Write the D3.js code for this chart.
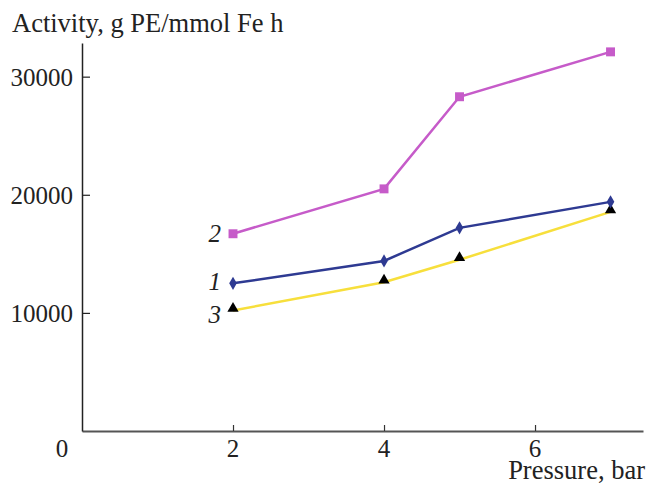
<!DOCTYPE html>
<html>
<head>
<meta charset="utf-8">
<script src="https://cdn.jsdelivr.net/npm/d3@7"></script>
<style>
    body { margin: 0; background: #fff; }
    svg text { font-family: "Liberation Serif", "DejaVu Serif", serif; fill: #222; }
</style>
</head>
<body>
<div id="chart"></div>
<script>

// pressure, bar
var pressure = [2, 4, 5, 7];

// activity, g PE/mmol Fe h
var series1 = [12500, 14400, 17200, 19400];
var series2 = [16700, 20500, 28300, 32100];
var series3 = [10200, 12600, 14500, 18550];

var seriesNames = ['1', '2', '3'];
var xTicks = [0, 2, 4, 6];
var yTicks = [10000, 20000, 30000];


var width = 648;
var height = 485;

var margin = {
    left: 82,
    top: 43,
    right: 5,
    bottom: 54
};

var innerWidth = width - margin.left - margin.right;
var innerHeight = height - margin.top - margin.bottom;

var xScale = d3.scaleLinear()
    .domain([0, 7.43])
    .range([0, innerWidth]);

var yScale = d3.scaleLinear()
    .domain([0, 32850])
    .range([innerHeight, 0]);

var svg = d3.select('#chart')
    .append('svg')
    .attr('width', width)
    .attr('height', height);

var canvas = svg.append('g')
    .attr('transform', 'translate(' + [margin.left, margin.top] + ')');

// axes
var xAxis = canvas.append('g')
    .attr('transform', 'translate(0,' + innerHeight + ')')
    .call(d3.axisBottom(xScale)
        .tickValues(xTicks.filter(d => d > 0))
        .tickSize(-6)
        .tickSizeOuter(0));

xAxis.selectAll('.tick text').remove();

xAxis.select('.domain')
    .attr('stroke', '#555')
    .attr('stroke-width', 2);

xAxis.selectAll('.tick line')
    .attr('stroke', '#333')
    .attr('stroke-width', 1.2);

var yAxis = canvas.append('g')
    .call(d3.axisLeft(yScale)
        .tickValues(yTicks)
        .tickSize(-8)
        .tickSizeOuter(0));

yAxis.selectAll('.tick text').remove();

yAxis.select('.domain')
    .attr('stroke', '#222')
    .attr('stroke-width', 1.5);

yAxis.selectAll('.tick line')
    .attr('stroke', '#222')
    .attr('stroke-width', 1.2);

// tick labels
canvas.selectAll('text.x-label')
    .data(xTicks)
    .enter()
    .append('text')
    .attr('class', 'x-label')
    .attr('x', d => xScale(d) - (d === 0 ? 20 : 0))
    .attr('y', innerHeight + 26)
    .attr('text-anchor', 'middle')
    .style('font-size', '25px')
    .text(d => d);

canvas.selectAll('text.y-label')
    .data(yTicks)
    .enter()
    .append('text')
    .attr('class', 'y-label')
    .attr('x', -9)
    .attr('y', d => yScale(d) + 9)
    .attr('text-anchor', 'end')
    .style('font-size', '25px')
    .text(d => d);

svg.append('text')
    .attr('x', 12)
    .attr('y', 32)
    .style('font-size', '26.5px')
    .text('Activity, g PE/mmol Fe h');

svg.append('text')
    .attr('x', 645)
    .attr('y', 479)
    .attr('text-anchor', 'end')
    .style('font-size', '26.5px')
    .text('Pressure, bar');

// lines
var data = [
    { name: '1', values: series1, color: '#2e3a92', symbol: d3.symbolDiamond, size: 50, fill: '#2e3a92', dy: 0, ly: 7 },
    { name: '2', values: series2, color: '#c65bc9', symbol: d3.symbolSquare, size: 80, fill: '#c65bc9', dy: 0, ly: 8 },
    { name: '3', values: series3, color: '#f7df3c', symbol: d3.symbolTriangle, size: 55, fill: '#000', dy: 2, ly: 12 }
];

var line = d3.line()
    .x((d, i) => xScale(pressure[i]))
    .y(d => yScale(d));

// yellow below, then blue, then magenta
[2, 0, 1].forEach(function(k) {
    var s = data[k];

    canvas.append('path')
        .datum(s.values)
        .attr('fill', 'none')
        .attr('stroke', s.color)
        .attr('stroke-width', 2.5)
        .attr('d', line);

    canvas.selectAll('path.marker-' + s.name)
        .data(s.values)
        .enter()
        .append('path')
        .attr('class', 'marker-' + s.name)
        .attr('transform', (d, i) => 'translate(' + [xScale(pressure[i]), yScale(d) - s.dy] + ')')
        .attr('d', d3.symbol().type(s.symbol).size(s.size))
        .attr('fill', s.fill);

    canvas.append('text')
        .attr('x', xScale(pressure[0]) - 12)
        .attr('y', yScale(s.values[0]) + s.ly)
        .attr('text-anchor', 'end')
        .style('font-size', '25px')
        .style('font-style', 'italic')
        .text(s.name);
});

</script>
</body>
</html>
